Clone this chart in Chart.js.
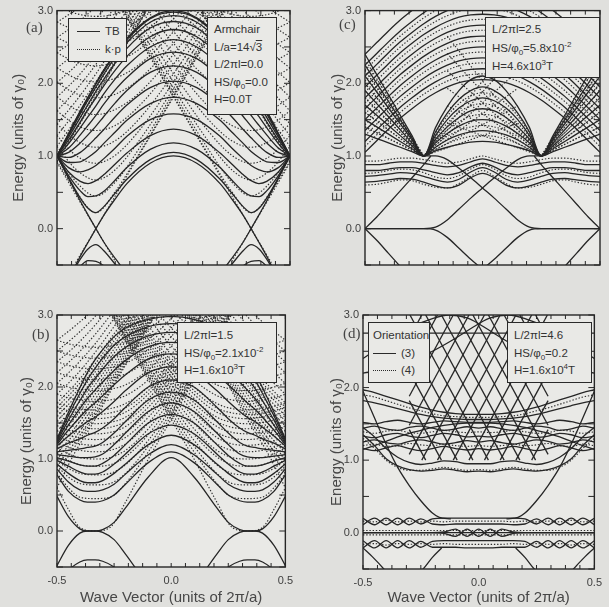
<!DOCTYPE html>
<html>
<head>
<meta charset="utf-8">
<title>Band structure in a magnetic field</title>
<script src="https://cdn.jsdelivr.net/npm/chart.js@4.4.1/dist/chart.umd.min.js"></script>
<style>
  html, body { margin: 0; padding: 0; background: #e0e0dd; }
  #page { position: relative; width: 609px; height: 607px; overflow: hidden; font-family: 'Liberation Sans', Arial, sans-serif; color: #333; }
  #page canvas { position: absolute; }
  .tag { position: absolute; font-family: 'Liberation Serif', 'Times New Roman', serif; font-size: 15px; line-height: 16px; color: #444; }
  .box { position: absolute; box-sizing: border-box; background: #e9e9e6; border: 1.3px solid #2a2a2a; font-size: 11.5px; color: #333; padding-left: 6px; white-space: nowrap; }
  .key { display: inline-block; width: 23px; margin-right: 5px; vertical-align: middle; border-top: 1.4px solid #2a2a2a; }
  .key.dot { border-top: 1.4px dotted #2a2a2a; }
  sub, sup { font-size: 8px; line-height: 0; }
  .ovl { text-decoration: overline; }
</style>
</head>
<body>
<div id="page">
  <canvas id="panelA" width="300" height="300" style="left:0;top:0"></canvas>
  <canvas id="panelC" width="309" height="300" style="left:300px;top:0"></canvas>
  <canvas id="panelB" width="300" height="307" style="left:0;top:300px"></canvas>
  <canvas id="panelD" width="309" height="307" style="left:300px;top:300px"></canvas>

  <div class="tag" style="left:26px;top:19px">(a)</div>
  <div class="tag" style="left:339px;top:16px">(c)</div>
  <div class="tag" style="left:32px;top:326px">(b)</div>
  <div class="tag" style="left:343px;top:325px">(d)</div>

  <div class="box" style="left:68px;top:18px;width:59px;height:44px;padding-top:3px;padding-left:8px;line-height:18px">
    <div><span class="key"></span>TB</div>
    <div><span class="key dot"></span>k·p</div>
  </div>
  <div class="box" style="left:207px;top:17px;width:70px;height:98px;padding-top:3px;line-height:17.5px">
    <div>Armchair</div>
    <div>L/a=14√<span class="ovl">3</span></div>
    <div>L/2πl=0.0</div>
    <div>HS/φ<sub>0</sub>=0.0</div>
    <div>H=0.0T</div>
  </div>
  <div class="box" style="left:485px;top:17px;width:115px;height:61px;padding-top:2px;line-height:18.5px">
    <div>L/2πl=2.5</div>
    <div>HS/φ<sub>0</sub>=5.8x10<sup>-2</sup></div>
    <div>H=4.6x10<sup>3</sup>T</div>
  </div>
  <div class="box" style="left:177px;top:322px;width:100px;height:61px;padding-top:4px;line-height:17.5px">
    <div>L/2πl=1.5</div>
    <div>HS/φ<sub>0</sub>=2.1x10<sup>-2</sup></div>
    <div>H=1.6x10<sup>3</sup>T</div>
  </div>
  <div class="box" style="left:368px;top:322px;width:62px;height:61px;padding-top:4px;padding-left:4px;line-height:17.5px">
    <div>Orientation</div>
    <div><span class="key"></span>(3)</div>
    <div><span class="key dot"></span>(4)</div>
  </div>
  <div class="box" style="left:507px;top:322px;width:85px;height:61px;padding-top:4px;line-height:17.5px">
    <div>L/2πl=4.6</div>
    <div>HS/φ<sub>0</sub>=0.2</div>
    <div>H=1.6x10<sup>4</sup>T</div>
  </div>
</div>

<script>
// ---- axis marks ----
const xMarks = [-0.5, -0.4375, -0.375, -0.3125, -0.25, -0.1875, -0.125, -0.0625, 0,
    0.0625, 0.125, 0.1875, 0.25, 0.3125, 0.375, 0.4375, 0.5];
const yMarks = [-0.5, 0, 0.5, 1, 1.5, 2, 2.5, 3];

// ---- panel (a): armchair, no field ----
const waveA = [-0.5, -0.45, -0.4, -0.367, -0.333, -0.3, -0.25, -0.2, -0.1, 0, 0.1, 0.2, 0.25, 0.3, 0.333, 0.367, 0.4, 0.45, 0.5];
const tbA = [
    [1.0, 1.31, 1.62, 1.81, 2.0, 2.18, 2.41, 2.62, 2.9, 3.0, 2.9, 2.62, 2.41, 2.18, 2.0, 1.81, 1.62, 1.31, 1.0],
    [1.0, 1.31, 1.61, 1.8, 1.99, 2.16, 2.4, 2.6, 2.89, 2.98, 2.89, 2.6, 2.4, 2.16, 1.99, 1.8, 1.61, 1.31, 1.0],
    [1.0, 1.29, 1.58, 1.77, 1.95, 2.12, 2.36, 2.56, 2.84, 2.93, 2.84, 2.56, 2.36, 2.12, 1.95, 1.77, 1.58, 1.29, 1.0],
    [1.0, 1.26, 1.53, 1.71, 1.89, 2.05, 2.28, 2.48, 2.76, 2.85, 2.76, 2.48, 2.28, 2.05, 1.89, 1.71, 1.53, 1.26, 1.0],
    [1.0, 1.22, 1.47, 1.64, 1.8, 1.96, 2.18, 2.37, 2.64, 2.74, 2.64, 2.37, 2.18, 1.96, 1.8, 1.64, 1.47, 1.22, 1.0],
    [1.0, 1.17, 1.39, 1.54, 1.69, 1.85, 2.06, 2.24, 2.5, 2.6, 2.5, 2.24, 2.06, 1.85, 1.69, 1.54, 1.39, 1.17, 1.0],
    [1.0, 1.11, 1.29, 1.42, 1.56, 1.71, 1.91, 2.08, 2.34, 2.43, 2.34, 2.08, 1.91, 1.71, 1.56, 1.42, 1.29, 1.11, 1.0],
    [1.0, 1.05, 1.18, 1.29, 1.41, 1.54, 1.73, 1.9, 2.15, 2.24, 2.15, 1.9, 1.73, 1.54, 1.41, 1.29, 1.18, 1.05, 1.0],
    [1.0, 0.98, 1.05, 1.14, 1.25, 1.36, 1.54, 1.7, 1.94, 2.03, 1.94, 1.7, 1.54, 1.36, 1.25, 1.14, 1.05, 0.98, 1.0],
    [1.0, 0.91, 0.92, 0.98, 1.06, 1.17, 1.33, 1.49, 1.72, 1.81, 1.72, 1.49, 1.33, 1.17, 1.06, 0.98, 0.92, 0.91, 1.0],
    [1.0, 0.84, 0.78, 0.81, 0.87, 0.96, 1.11, 1.27, 1.5, 1.58, 1.5, 1.27, 1.11, 0.96, 0.87, 0.81, 0.78, 0.84, 1.0],
    [1.0, 0.78, 0.65, 0.62, 0.66, 0.74, 0.89, 1.04, 1.28, 1.37, 1.28, 1.04, 0.89, 0.74, 0.66, 0.62, 0.65, 0.78, 1.0],
    [1.0, 0.73, 0.52, 0.44, 0.45, 0.51, 0.67, 0.84, 1.09, 1.18, 1.09, 0.84, 0.67, 0.51, 0.45, 0.44, 0.52, 0.73, 1.0],
    [1.0, 0.7, 0.42, 0.28, 0.22, 0.3, 0.49, 0.68, 0.95, 1.05, 0.95, 0.68, 0.49, 0.3, 0.22, 0.28, 0.42, 0.7, 1.0],
    [-1.0, -0.7, -0.42, -0.28, -0.22, -0.3, -0.49, -0.68, -0.95, -1.05, -0.95, -0.68, -0.49, -0.3, -0.22, -0.28, -0.42, -0.7, -1.0],
    [-1.0, -0.73, -0.52, -0.44, -0.45, -0.51, -0.67, -0.84, -1.09, -1.18, -1.09, -0.84, -0.67, -0.51, -0.45, -0.44, -0.52, -0.73, -1.0],
];
const diracA = [
    [[-0.5, 1.0], [-0.45, 0.69], [-0.4, 0.38], [-0.367, 0.19], [-0.333, 0], [-0.3, -0.18], [-0.25, -0.41], [-0.2, -0.62]],
    [[-0.5, -1.0], [-0.45, -0.69], [-0.4, -0.38], [-0.367, -0.19], [-0.333, 0], [-0.3, 0.18], [-0.25, 0.41], [-0.2, 0.62], [-0.1, 0.9], [0, 1.0],
     [0.1, 0.9], [0.2, 0.62], [0.25, 0.41], [0.3, 0.18], [0.333, 0], [0.367, -0.19], [0.4, -0.38], [0.45, -0.69], [0.5, -1.0]],
    [[0.2, -0.62], [0.25, -0.41], [0.3, -0.18], [0.333, 0], [0.367, 0.19], [0.4, 0.38], [0.45, 0.69], [0.5, 1.0]],
];
const kpZeroA = [
    [[-0.5, 0.91], [-0.42, 0.47], [-0.333, 0], [-0.25, -0.45]],
    [[-0.42, -0.47], [-0.333, 0], [-0.25, 0.45], [-0.15, 1.0], [0, 1.81], [0.15, 2.63], [0.3, 3.45]],
    [[0.25, -0.45], [0.333, 0], [0.42, 0.47], [0.5, 0.91]],
    [[-0.3, 3.45], [-0.15, 2.63], [0, 1.81], [0.15, 1.0], [0.25, 0.45], [0.333, 0], [0.42, -0.47]],
];
const kpGridA = [-0.5, -0.42, -0.333, -0.25, -0.15, 0, 0.15, 0.3];
const kpGridAR = [-0.3, -0.15, 0, 0.15, 0.25, 0.333, 0.42, 0.5];
const kpA = [
    [0.93, 0.52, 0.22, 0.51, 1.02, 1.83, 2.64, 3.45],
    [1.01, 0.65, 0.45, 0.64, 1.09, 1.87, 2.67, 3.48],
    [1.13, 0.82, 0.67, 0.81, 1.2, 1.93, 2.71, 3.51],
    [1.28, 1.01, 0.9, 1.01, 1.34, 2.02, 2.78, 3.56],
    [1.44, 1.22, 1.12, 1.21, 1.5, 2.13, 2.86, 3.63],
    [1.62, 1.43, 1.35, 1.42, 1.68, 2.26, 2.95, 3.71],
    [1.81, 1.64, 1.57, 1.64, 1.86, 2.4, 3.06, 3.8],
    [2.01, 1.86, 1.8, 1.85, 2.05, 2.55, 3.17, 3.9],
    [2.21, 2.07, 2.02, 2.07, 2.25, 2.71, 3.3, 4.0],
    [2.42, 2.29, 2.24, 2.29, 2.46, 2.89, 3.44, 4.1],
    [2.63, 2.51, 2.47, 2.51, 2.66, 3.06, 3.6, 4.2],
    [2.84, 2.73, 2.69, 2.73, 2.87, 3.24, 3.75, 4.3],
    [3.06, 2.96, 2.92, 2.95, 3.08, 3.4, 3.9, 4.4],
];
const zoneGridA = [-0.5, -0.42, -0.333, -0.25, -0.15, -0.05];
const zoneGridAR = [0.05, 0.15, 0.25, 0.333, 0.42, 0.5];
const zoneA = [
    [0.91, 1.34, 1.81, 2.27, 2.81, 3.36],
    [0.93, 1.36, 1.83, 2.28, 2.82, 3.36],
    [1.01, 1.42, 1.87, 2.31, 2.85, 3.39],
    [1.13, 1.5, 1.93, 2.37, 2.89, 3.42],
    [1.28, 1.61, 2.02, 2.44, 2.95, 3.47],
    [1.44, 1.75, 2.13, 2.54, 3.03, 3.54],
    [1.62, 1.9, 2.26, 2.65, 3.11, 3.62],
    [1.81, 2.06, 2.4, 2.78, 3.22, 3.72],
    [2.01, 2.24, 2.55, 2.92, 3.33, 3.82],
    [2.21, 2.42, 2.71, 3.05, 3.45, 3.94],
    [2.42, 2.61, 2.89, 3.2, 3.6, 4.06],
    [2.63, 2.81, 3.06, 3.35, 3.75, 4.2],
    [2.84, 3.01, 3.24, 3.5, 3.9, 4.33],
    [3.06, 3.2, 3.4, 3.6, 4.0, 4.47],
];

// ---- panel (b): L/2πl = 1.5 ----
const waveB = [-0.5, -0.45, -0.4, -0.367, -0.333, -0.3, -0.25, -0.2, -0.1, 0, 0.1, 0.2, 0.25, 0.3, 0.333, 0.367, 0.4, 0.45, 0.5];
const tbB = [
    [0.48, 0.2, 0.03, 0.0, 0.0, 0.02, 0.12, 0.32, 0.75, 1.02, 0.75, 0.32, 0.12, 0.02, 0.0, 0.0, 0.03, 0.2, 0.48],
    [0.78, 0.55, 0.43, 0.4, 0.4, 0.42, 0.5, 0.65, 0.95, 1.1, 0.95, 0.65, 0.5, 0.42, 0.4, 0.4, 0.43, 0.55, 0.78],
    [0.86, 0.68, 0.57, 0.55, 0.55, 0.57, 0.65, 0.79, 1.06, 1.2, 1.06, 0.79, 0.65, 0.57, 0.55, 0.55, 0.57, 0.68, 0.86],
    [0.93, 0.8, 0.7, 0.67, 0.67, 0.7, 0.8, 0.93, 1.2, 1.33, 1.2, 0.93, 0.8, 0.7, 0.67, 0.67, 0.7, 0.8, 0.93],
    [0.98, 0.9, 0.82, 0.79, 0.79, 0.82, 0.93, 1.07, 1.35, 1.47, 1.35, 1.07, 0.93, 0.82, 0.79, 0.79, 0.82, 0.9, 0.98],
    [1.02, 0.97, 0.92, 0.9, 0.9, 0.94, 1.05, 1.2, 1.5, 1.62, 1.5, 1.2, 1.05, 0.94, 0.9, 0.9, 0.92, 0.97, 1.02],
    [1.06, 1.04, 1.02, 1.02, 1.03, 1.07, 1.2, 1.36, 1.66, 1.78, 1.66, 1.36, 1.2, 1.07, 1.03, 1.02, 1.02, 1.04, 1.06],
    [1.1, 1.12, 1.14, 1.16, 1.18, 1.23, 1.36, 1.52, 1.82, 1.93, 1.82, 1.52, 1.36, 1.23, 1.18, 1.16, 1.14, 1.12, 1.1],
    [1.14, 1.22, 1.28, 1.33, 1.37, 1.43, 1.56, 1.72, 2.0, 2.1, 2.0, 1.72, 1.56, 1.43, 1.37, 1.33, 1.28, 1.22, 1.14],
    [1.18, 1.32, 1.44, 1.52, 1.58, 1.66, 1.8, 1.95, 2.2, 2.28, 2.2, 1.95, 1.8, 1.66, 1.58, 1.52, 1.44, 1.32, 1.18],
    [1.2, 1.4, 1.58, 1.69, 1.78, 1.88, 2.03, 2.17, 2.39, 2.46, 2.39, 2.17, 2.03, 1.88, 1.78, 1.69, 1.58, 1.4, 1.2],
    [1.22, 1.47, 1.7, 1.84, 1.96, 2.07, 2.23, 2.37, 2.56, 2.62, 2.56, 2.37, 2.23, 2.07, 1.96, 1.84, 1.7, 1.47, 1.22],
    [1.24, 1.54, 1.81, 1.98, 2.12, 2.25, 2.42, 2.55, 2.71, 2.76, 2.71, 2.55, 2.42, 2.25, 2.12, 1.98, 1.81, 1.54, 1.24],
    [1.26, 1.6, 1.91, 2.1, 2.26, 2.4, 2.58, 2.7, 2.84, 2.88, 2.84, 2.7, 2.58, 2.4, 2.26, 2.1, 1.91, 1.6, 1.26],
    [1.28, 1.65, 1.99, 2.2, 2.38, 2.52, 2.7, 2.82, 2.94, 2.98, 2.94, 2.82, 2.7, 2.52, 2.38, 2.2, 1.99, 1.65, 1.28],
    [-0.48, -0.2, -0.03, 0.0, 0.0, -0.02, -0.12, -0.32, -0.75, -1.02, -0.75, -0.32, -0.12, -0.02, 0.0, 0.0, -0.03, -0.2, -0.48],
    [-0.78, -0.55, -0.43, -0.4, -0.4, -0.42, -0.5, -0.65, -0.95, -1.1, -0.95, -0.65, -0.5, -0.42, -0.4, -0.4, -0.43, -0.55, -0.78],
    [-0.86, -0.68, -0.57, -0.55, -0.55, -0.57, -0.65, -0.79, -1.06, -1.2, -1.06, -0.79, -0.65, -0.57, -0.55, -0.55, -0.57, -0.68, -0.86],
];
const kpGridB = [-0.5, -0.45, -0.4, -0.333, -0.267, -0.2, -0.1, 0, 0.1, 0.2, 0.3];
const kpGridBR = [-0.3, -0.2, -0.1, 0, 0.1, 0.2, 0.267, 0.333, 0.4, 0.45, 0.5];
const kpB = [
    [0.6, 0.3, 0.05, 0, 0.05, 0.4, 1.0, 1.55, 2.1, 2.65, 3.2],
    [0.8, 0.6, 0.47, 0.45, 0.47, 0.66, 1.1, 1.6, 2.14, 2.68, 3.22],
    [0.9, 0.75, 0.66, 0.64, 0.66, 0.8, 1.18, 1.65, 2.17, 2.7, 3.24],
    [1.0, 0.87, 0.8, 0.78, 0.8, 0.92, 1.26, 1.71, 2.21, 2.73, 3.27],
    [1.08, 0.98, 0.92, 0.9, 0.92, 1.03, 1.34, 1.77, 2.26, 2.77, 3.3],
    [1.16, 1.07, 1.02, 1.0, 1.02, 1.12, 1.42, 1.83, 2.3, 2.8, 3.33],
    [1.24, 1.16, 1.12, 1.1, 1.12, 1.21, 1.5, 1.9, 2.36, 2.85, 3.37],
    [1.32, 1.25, 1.21, 1.19, 1.21, 1.3, 1.58, 1.96, 2.41, 2.89, 3.41],
    [1.39, 1.33, 1.29, 1.27, 1.29, 1.37, 1.65, 2.03, 2.47, 2.94, 3.45],
    [1.46, 1.4, 1.37, 1.35, 1.37, 1.45, 1.72, 2.09, 2.52, 2.98, 3.49],
    [1.53, 1.47, 1.44, 1.42, 1.44, 1.52, 1.78, 2.15, 2.57, 3.03, 3.53],
    [1.6, 1.54, 1.51, 1.49, 1.51, 1.58, 1.84, 2.2, 2.62, 3.07, 3.57],
    [1.66, 1.6, 1.58, 1.56, 1.58, 1.65, 1.9, 2.26, 2.67, 3.12, 3.61],
    [1.72, 1.67, 1.64, 1.62, 1.64, 1.71, 1.95, 2.31, 2.72, 3.16, 3.65],
    [1.78, 1.73, 1.7, 1.68, 1.7, 1.77, 2.0, 2.36, 2.77, 3.2, 3.7],
    [1.9, 1.85, 1.82, 1.8, 1.82, 1.88, 2.1, 2.45, 2.85, 3.28, 3.76],
    [2.05, 2.0, 1.97, 1.95, 1.97, 2.03, 2.24, 2.57, 2.96, 3.38, 3.85],
    [2.2, 2.15, 2.12, 2.1, 2.12, 2.18, 2.38, 2.7, 3.07, 3.48, 3.94],
    [2.35, 2.3, 2.27, 2.25, 2.27, 2.33, 2.52, 2.82, 3.18, 3.58, 4.03],
    [2.5, 2.45, 2.42, 2.4, 2.42, 2.48, 2.66, 2.95, 3.3, 3.7, 4.13],
    [2.65, 2.6, 2.57, 2.55, 2.57, 2.62, 2.8, 3.07, 3.41, 3.8, 4.22],
];
const zoneGridB = [-0.5, -0.42, -0.333, -0.25, -0.15, -0.05];
const zoneGridBR = [0.05, 0.15, 0.25, 0.333, 0.42, 0.5];
const zoneB = [
    [0.6, 1.1, 1.55, 2.03, 2.57, 3.11],
    [0.8, 1.18, 1.6, 2.06, 2.59, 3.13],
    [0.9, 1.24, 1.65, 2.1, 2.62, 3.15],
    [1.0, 1.3, 1.71, 2.14, 2.65, 3.17],
    [1.08, 1.37, 1.77, 2.18, 2.69, 3.2],
    [1.16, 1.44, 1.83, 2.23, 2.73, 3.23],
    [1.24, 1.51, 1.9, 2.29, 2.77, 3.26],
    [1.32, 1.58, 1.96, 2.35, 2.81, 3.3],
    [1.39, 1.65, 2.03, 2.41, 2.86, 3.34],
    [1.46, 1.72, 2.09, 2.47, 2.9, 3.38],
    [1.53, 1.79, 2.15, 2.53, 2.95, 3.42],
    [1.6, 1.86, 2.21, 2.59, 3.0, 3.46],
    [1.66, 1.92, 2.27, 2.64, 3.05, 3.5],
    [1.72, 1.98, 2.32, 2.69, 3.1, 3.54],
    [1.78, 2.04, 2.38, 2.74, 3.15, 3.58],
    [1.9, 2.15, 2.48, 2.84, 3.24, 3.66],
    [2.05, 2.29, 2.6, 2.95, 3.33, 3.74],
    [2.2, 2.43, 2.73, 3.06, 3.43, 3.83],
    [2.35, 2.57, 2.86, 3.17, 3.53, 3.92],
    [2.5, 2.71, 2.98, 3.29, 3.63, 4.0],
    [2.65, 2.85, 3.1, 3.4, 3.73, 4.1],
];

// ---- panel (c): L/2πl = 2.5 ----
const waveC = [-0.5, -0.45, -0.4, -0.35, -0.3, -0.25, -0.2, -0.15, -0.1, -0.05, 0, 0.05, 0.1, 0.15, 0.2, 0.25, 0.3, 0.35, 0.4, 0.45, 0.5];
const arcsC = [
    [1.05, 1.21, 1.37, 1.52, 1.65, 1.77, 1.87, 1.95, 2.01, 2.04, 2.05, 2.04, 2.01, 1.95, 1.87, 1.77, 1.65, 1.52, 1.37, 1.21, 1.05],
    [1.2, 1.36, 1.52, 1.67, 1.8, 1.92, 2.02, 2.1, 2.16, 2.19, 2.2, 2.19, 2.16, 2.1, 2.02, 1.92, 1.8, 1.67, 1.52, 1.36, 1.2],
    [1.35, 1.51, 1.67, 1.82, 1.95, 2.07, 2.17, 2.25, 2.31, 2.34, 2.35, 2.34, 2.31, 2.25, 2.17, 2.07, 1.95, 1.82, 1.67, 1.51, 1.35],
    [1.5, 1.66, 1.82, 1.97, 2.1, 2.22, 2.32, 2.4, 2.46, 2.49, 2.5, 2.49, 2.46, 2.4, 2.32, 2.22, 2.1, 1.97, 1.82, 1.66, 1.5],
    [1.65, 1.81, 1.97, 2.12, 2.25, 2.37, 2.47, 2.55, 2.61, 2.64, 2.65, 2.64, 2.61, 2.55, 2.47, 2.37, 2.25, 2.12, 1.97, 1.81, 1.65],
    [1.8, 1.96, 2.12, 2.27, 2.4, 2.52, 2.62, 2.7, 2.76, 2.79, 2.8, 2.79, 2.76, 2.7, 2.62, 2.52, 2.4, 2.27, 2.12, 1.96, 1.8],
    [1.95, 2.11, 2.27, 2.42, 2.55, 2.67, 2.77, 2.85, 2.91, 2.94, 2.95, 2.94, 2.91, 2.85, 2.77, 2.67, 2.55, 2.42, 2.27, 2.11, 1.95],
    [2.1, 2.26, 2.42, 2.57, 2.7, 2.82, 2.92, 3.0, 3.06, 3.09, 3.1, 3.09, 3.06, 3.0, 2.92, 2.82, 2.7, 2.57, 2.42, 2.26, 2.1],
    [2.25, 2.41, 2.57, 2.72, 2.85, 2.97, 3.07, 3.15, 3.21, 3.24, 3.25, 3.24, 3.21, 3.15, 3.07, 2.97, 2.85, 2.72, 2.57, 2.41, 2.25],
    [2.4, 2.56, 2.72, 2.87, 3.0, 3.12, 3.22, 3.3, 3.36, 3.39, 3.4, 3.39, 3.36, 3.3, 3.22, 3.12, 3.0, 2.87, 2.72, 2.56, 2.4],
];
const arcsDotC = [
    [1.13, 1.29, 1.45, 1.6, 1.73, 1.85, 1.95, 2.03, 2.09, 2.12, 2.13, 2.12, 2.09, 2.03, 1.95, 1.85, 1.73, 1.6, 1.45, 1.29, 1.13],
    [1.28, 1.44, 1.6, 1.75, 1.88, 2.0, 2.1, 2.18, 2.24, 2.27, 2.28, 2.27, 2.24, 2.18, 2.1, 2.0, 1.88, 1.75, 1.6, 1.44, 1.28],
    [1.43, 1.59, 1.75, 1.9, 2.03, 2.15, 2.25, 2.33, 2.39, 2.42, 2.43, 2.42, 2.39, 2.33, 2.25, 2.15, 2.03, 1.9, 1.75, 1.59, 1.43],
    [1.58, 1.74, 1.9, 2.05, 2.18, 2.3, 2.4, 2.48, 2.54, 2.57, 2.58, 2.57, 2.54, 2.48, 2.4, 2.3, 2.18, 2.05, 1.9, 1.74, 1.58],
    [1.73, 1.89, 2.05, 2.2, 2.33, 2.45, 2.55, 2.63, 2.69, 2.72, 2.73, 2.72, 2.69, 2.63, 2.55, 2.45, 2.33, 2.2, 2.05, 1.89, 1.73],
    [1.88, 2.04, 2.2, 2.35, 2.48, 2.6, 2.7, 2.78, 2.84, 2.87, 2.88, 2.87, 2.84, 2.78, 2.7, 2.6, 2.48, 2.35, 2.2, 2.04, 1.88],
    [2.03, 2.19, 2.35, 2.5, 2.63, 2.75, 2.85, 2.93, 2.99, 3.02, 3.03, 3.02, 2.99, 2.93, 2.85, 2.75, 2.63, 2.5, 2.35, 2.19, 2.03],
    [2.18, 2.34, 2.5, 2.65, 2.78, 2.9, 3.0, 3.08, 3.14, 3.17, 3.18, 3.17, 3.14, 3.08, 3.0, 2.9, 2.78, 2.65, 2.5, 2.34, 2.18],
];
const humpsC = [
    [1.3, 1.24, 1.18, 1.12, 1.06, 1.0, 1.07, 1.12, 1.16, 1.19, 1.2, 1.19, 1.16, 1.12, 1.07, 1.0, 1.06, 1.12, 1.18, 1.24, 1.3],
    [1.5, 1.4, 1.3, 1.2, 1.1, 1.0, 1.12, 1.22, 1.29, 1.33, 1.35, 1.33, 1.29, 1.22, 1.12, 1.0, 1.1, 1.2, 1.3, 1.4, 1.5],
    [1.7, 1.56, 1.42, 1.28, 1.14, 1.0, 1.18, 1.31, 1.41, 1.48, 1.5, 1.48, 1.41, 1.31, 1.18, 1.0, 1.14, 1.28, 1.42, 1.56, 1.7],
    [1.9, 1.72, 1.54, 1.36, 1.18, 1.0, 1.23, 1.4, 1.53, 1.62, 1.65, 1.62, 1.53, 1.4, 1.23, 1.0, 1.18, 1.36, 1.54, 1.72, 1.9],
    [2.1, 1.88, 1.66, 1.44, 1.22, 1.0, 1.28, 1.5, 1.66, 1.76, 1.8, 1.76, 1.66, 1.5, 1.28, 1.0, 1.22, 1.44, 1.66, 1.88, 2.1],
    [2.25, 2.0, 1.75, 1.5, 1.25, 1.0, 1.33, 1.59, 1.78, 1.9, 1.95, 1.9, 1.78, 1.59, 1.33, 1.0, 1.25, 1.5, 1.75, 2.0, 2.25],
    [2.4, 2.12, 1.84, 1.56, 1.28, 1.0, 1.39, 1.68, 1.9, 2.05, 2.1, 2.05, 1.9, 1.68, 1.39, 1.0, 1.28, 1.56, 1.84, 2.12, 2.4],
];
const humpsDotC = [
    [1.4, 1.32, 1.24, 1.16, 1.08, 1.0, 1.09, 1.17, 1.23, 1.27, 1.28, 1.27, 1.23, 1.17, 1.09, 1.0, 1.08, 1.16, 1.24, 1.32, 1.4],
    [1.6, 1.48, 1.36, 1.24, 1.12, 1.0, 1.15, 1.27, 1.35, 1.4, 1.42, 1.4, 1.35, 1.27, 1.15, 1.0, 1.12, 1.24, 1.36, 1.48, 1.6],
    [1.8, 1.64, 1.48, 1.32, 1.16, 1.0, 1.2, 1.36, 1.47, 1.55, 1.57, 1.55, 1.47, 1.36, 1.2, 1.0, 1.16, 1.32, 1.48, 1.64, 1.8],
    [2.0, 1.8, 1.6, 1.4, 1.2, 1.0, 1.26, 1.45, 1.6, 1.69, 1.72, 1.69, 1.6, 1.45, 1.26, 1.0, 1.2, 1.4, 1.6, 1.8, 2.0],
    [2.18, 1.94, 1.71, 1.47, 1.24, 1.0, 1.31, 1.55, 1.72, 1.83, 1.87, 1.83, 1.72, 1.55, 1.31, 1.0, 1.24, 1.47, 1.71, 1.94, 2.18],
];
const wavesC = [
    [0.64, 0.65, 0.67, 0.69, 0.68, 0.64, 0.59, 0.56, 0.6, 0.7, 0.76, 0.7, 0.6, 0.56, 0.59, 0.64, 0.68, 0.69, 0.67, 0.65, 0.64],
    [0.72, 0.73, 0.75, 0.77, 0.76, 0.72, 0.67, 0.64, 0.68, 0.78, 0.84, 0.78, 0.68, 0.64, 0.67, 0.72, 0.76, 0.77, 0.75, 0.73, 0.72],
    [0.8, 0.8, 0.82, 0.84, 0.84, 0.81, 0.77, 0.74, 0.77, 0.85, 0.9, 0.85, 0.77, 0.74, 0.77, 0.81, 0.84, 0.84, 0.82, 0.8, 0.8],
    [0.88, 0.88, 0.9, 0.92, 0.92, 0.9, 0.87, 0.85, 0.87, 0.92, 0.96, 0.92, 0.87, 0.85, 0.87, 0.9, 0.92, 0.92, 0.9, 0.88, 0.88],
];
const wavesDotC = [
    [0.6, 0.61, 0.64, 0.67, 0.66, 0.61, 0.57, 0.56, 0.62, 0.72, 0.8, 0.72, 0.62, 0.56, 0.57, 0.61, 0.66, 0.67, 0.64, 0.61, 0.6],
    [0.76, 0.77, 0.8, 0.82, 0.81, 0.77, 0.71, 0.69, 0.73, 0.82, 0.88, 0.82, 0.73, 0.69, 0.71, 0.77, 0.81, 0.82, 0.8, 0.77, 0.76],
    [0.93, 0.93, 0.95, 0.97, 0.97, 0.95, 0.92, 0.9, 0.92, 0.96, 1.0, 0.96, 0.92, 0.9, 0.92, 0.95, 0.97, 0.97, 0.95, 0.93, 0.93],
];
const lowC = [
    [[-0.5, 0], [-0.35, 0], [-0.25, 0], [-0.2, 0.02], [-0.15, 0.12], [-0.1, 0.27], [-0.05, 0.42], [0, 0.56], [0.05, 0.7], [0.1, 0.83], [0.15, 0.95], [0.2, 1.0], [0.25, 1.0]],
    [[-0.25, 1.0], [-0.2, 1.0], [-0.15, 0.95], [-0.1, 0.83], [-0.05, 0.7], [0, 0.56], [0.05, 0.42], [0.1, 0.27], [0.15, 0.12], [0.2, 0.02], [0.25, 0], [0.35, 0], [0.5, 0]],
    [[-0.5, 0], [-0.25, 0], [-0.2, -0.02], [-0.15, -0.12], [-0.1, -0.27], [-0.05, -0.42], [0, -0.56], [0.05, -0.7]],
    [[-0.05, -0.7], [0, -0.56], [0.05, -0.42], [0.1, -0.27], [0.15, -0.12], [0.2, -0.02], [0.25, 0], [0.5, 0]],
    [[-0.5, 0], [-0.45, 0.16], [-0.4, 0.34], [-0.35, 0.52], [-0.3, 0.7], [-0.25, 0.88], [-0.22, 1.0]],
    [[-0.5, 0], [-0.45, -0.16], [-0.4, -0.34], [-0.35, -0.52]],
    [[0.22, 1.0], [0.25, 0.88], [0.3, 0.7], [0.35, 0.52], [0.4, 0.34], [0.45, 0.16], [0.5, 0]],
    [[0.35, -0.52], [0.4, -0.34], [0.45, -0.16], [0.5, 0]],
];
const fociDotC = [
    [[-0.5, 1.4], [-0.25, 1.0], [0.15, 1.45]],
    [[-0.5, 1.6], [-0.25, 1.0], [0.15, 1.69]],
    [[-0.5, 1.8], [-0.25, 1.0], [0.15, 1.93]],
    [[-0.5, 2.0], [-0.25, 1.0], [0.15, 2.17]],
    [[-0.5, 2.18], [-0.25, 1.0], [0.15, 2.41]],
    [[-0.5, 2.33], [-0.25, 1.0], [0.15, 2.65]],
    [[-0.15, 1.45], [0.25, 1.0], [0.5, 1.4]],
    [[-0.15, 1.69], [0.25, 1.0], [0.5, 1.6]],
    [[-0.15, 1.93], [0.25, 1.0], [0.5, 1.8]],
    [[-0.15, 2.17], [0.25, 1.0], [0.5, 2.0]],
    [[-0.15, 2.41], [0.25, 1.0], [0.5, 2.18]],
    [[-0.15, 2.65], [0.25, 1.0], [0.5, 2.33]],
];

// ---- panel (d): L/2πl = 4.6 ----
const waveD = [-0.5, -0.45, -0.4, -0.35, -0.3, -0.25, -0.2, -0.15, -0.1, -0.05, 0, 0.05, 0.1, 0.15, 0.2, 0.25, 0.3, 0.35, 0.4, 0.45, 0.5];
const bandsD = [
    [0, 0, 0, 0, 0, 0, 0, 0, 0, 0, 0, 0, 0, 0, 0, 0, 0, 0, 0, 0, 0],
    [0, 0, 0, 0, 0, 0, 0, 0.01, 0.05, -0.05, 0.05, -0.05, 0.05, 0.01, 0, 0, 0, 0, 0, 0, 0],
    [0, 0, 0, 0, 0, 0, 0, -0.01, -0.05, 0.05, -0.05, 0.05, -0.05, -0.01, 0, 0, 0, 0, 0, 0, 0],
    [0.2, 0.11, 0.2, 0.11, 0.2, 0.12, 0.19, 0.2, 0.2, 0.2, 0.2, 0.2, 0.2, 0.2, 0.19, 0.12, 0.2, 0.11, 0.2, 0.11, 0.2],
    [0.11, 0.2, 0.11, 0.2, 0.11, 0.19, 0.12, 0.11, 0.12, 0.12, 0.12, 0.12, 0.12, 0.11, 0.12, 0.19, 0.11, 0.2, 0.11, 0.2, 0.11],
    [-0.21, -0.11, -0.21, -0.11, -0.21, -0.12, -0.2, -0.2, -0.2, -0.21, -0.21, -0.21, -0.2, -0.2, -0.2, -0.12, -0.21, -0.11, -0.21, -0.11, -0.21],
    [-0.11, -0.21, -0.11, -0.21, -0.11, -0.2, -0.12, -0.11, -0.11, -0.11, -0.11, -0.11, -0.11, -0.11, -0.12, -0.2, -0.11, -0.21, -0.11, -0.21, -0.11],
    [1.35, 1.2, 1.02, 0.92, 0.87, 0.85, 0.86, 0.88, 0.86, 0.84, 0.85, 0.84, 0.86, 0.88, 0.86, 0.85, 0.87, 0.92, 1.02, 1.2, 1.35],
    [1.45, 1.32, 1.16, 1.04, 0.97, 0.94, 0.96, 0.99, 0.98, 0.95, 0.95, 0.95, 0.98, 0.99, 0.96, 0.94, 0.97, 1.04, 1.16, 1.32, 1.45],
    [1.16, 1.13, 1.17, 1.2, 1.16, 1.13, 1.16, 1.19, 1.16, 1.14, 1.16, 1.14, 1.16, 1.19, 1.16, 1.13, 1.16, 1.2, 1.17, 1.13, 1.16],
    [1.25, 1.28, 1.24, 1.22, 1.26, 1.28, 1.25, 1.22, 1.24, 1.27, 1.25, 1.27, 1.24, 1.22, 1.25, 1.28, 1.26, 1.22, 1.24, 1.28, 1.25],
    [1.33, 1.31, 1.35, 1.37, 1.33, 1.31, 1.34, 1.37, 1.35, 1.32, 1.33, 1.32, 1.35, 1.37, 1.34, 1.31, 1.33, 1.37, 1.35, 1.31, 1.33],
    [1.44, 1.47, 1.43, 1.41, 1.45, 1.47, 1.44, 1.41, 1.43, 1.46, 1.44, 1.46, 1.43, 1.41, 1.44, 1.47, 1.45, 1.41, 1.43, 1.47, 1.44],
    [1.52, 1.5, 1.53, 1.55, 1.52, 1.5, 1.52, 1.54, 1.53, 1.52, 1.52, 1.52, 1.53, 1.54, 1.52, 1.5, 1.52, 1.55, 1.53, 1.5, 1.52],
    [1.15, 1.2, 1.26, 1.32, 1.37, 1.41, 1.45, 1.48, 1.5, 1.51, 1.51, 1.51, 1.5, 1.48, 1.45, 1.41, 1.37, 1.32, 1.26, 1.2, 1.15],
    [1.82, 1.79, 1.75, 1.71, 1.67, 1.63, 1.6, 1.58, 1.57, 1.56, 1.56, 1.56, 1.57, 1.58, 1.6, 1.63, 1.67, 1.71, 1.75, 1.79, 1.82],
    [1.97, 1.93, 1.88, 1.83, 1.78, 1.73, 1.69, 1.66, 1.64, 1.63, 1.63, 1.63, 1.64, 1.66, 1.69, 1.73, 1.78, 1.83, 1.88, 1.93, 1.97],
];
const bandsDotD = [
    [0.03, 0.03, 0.03, 0.03, 0.03, 0.03, 0.03, 0.03, 0.03, 0.03, 0.03, 0.03, 0.03, 0.03, 0.03, 0.03, 0.03, 0.03, 0.03, 0.03, 0.03],
    [-0.03, -0.03, -0.03, -0.03, -0.03, -0.03, -0.03, -0.03, -0.03, -0.03, -0.03, -0.03, -0.03, -0.03, -0.03, -0.03, -0.03, -0.03, -0.03, -0.03, -0.03],
    [0.16, 0.15, 0.17, 0.15, 0.16, 0.15, 0.16, 0.15, 0.16, 0.16, 0.16, 0.16, 0.16, 0.15, 0.16, 0.15, 0.16, 0.15, 0.17, 0.15, 0.16],
    [-0.16, -0.15, -0.17, -0.15, -0.16, -0.15, -0.16, -0.15, -0.16, -0.16, -0.16, -0.16, -0.16, -0.15, -0.16, -0.15, -0.16, -0.15, -0.17, -0.15, -0.16],
    [1.3, 1.16, 1.0, 0.9, 0.86, 0.86, 0.88, 0.9, 0.88, 0.86, 0.87, 0.86, 0.88, 0.9, 0.88, 0.86, 0.86, 0.9, 1.0, 1.16, 1.3],
    [1.2, 1.22, 1.19, 1.2, 1.23, 1.21, 1.2, 1.22, 1.2, 1.19, 1.2, 1.19, 1.2, 1.22, 1.2, 1.21, 1.23, 1.2, 1.19, 1.22, 1.2],
    [1.39, 1.37, 1.4, 1.41, 1.38, 1.37, 1.39, 1.41, 1.39, 1.38, 1.39, 1.38, 1.39, 1.41, 1.39, 1.37, 1.38, 1.41, 1.4, 1.37, 1.39],
    [1.9, 1.87, 1.82, 1.77, 1.72, 1.68, 1.64, 1.61, 1.6, 1.59, 1.59, 1.59, 1.6, 1.61, 1.64, 1.68, 1.72, 1.77, 1.82, 1.87, 1.9],
];
const branchesD = [
    [[-0.5, 1.95], [-0.45, 1.58], [-0.4, 1.22], [-0.35, 0.9], [-0.3, 0.65], [-0.25, 0.44], [-0.2, 0.27], [-0.17, 0.21], [-0.12, 0.19]],
    [[0.12, 0.19], [0.17, 0.21], [0.2, 0.27], [0.25, 0.44], [0.3, 0.65], [0.35, 0.9], [0.4, 1.22], [0.45, 1.58], [0.5, 1.95]],
    [[-0.5, -0.21], [-0.46, -0.33], [-0.41, -0.5], [-0.39, -0.58]],
    [[-0.27, -0.6], [-0.24, -0.5], [-0.2, -0.34], [-0.16, -0.21]],
    [[0.16, -0.21], [0.2, -0.34], [0.24, -0.5], [0.27, -0.6]],
    [[0.39, -0.58], [0.41, -0.5], [0.46, -0.33], [0.5, -0.21]],
    [[-0.5, 2.4], [-0.4, 2.62], [-0.3, 2.82], [-0.2, 2.95], [-0.13, 3.0], [-0.05, 2.96], [0, 2.88], [0.1, 2.68], [0.2, 2.5], [0.3, 2.35], [0.4, 2.25], [0.5, 2.2]],
    [[-0.5, 2.2], [-0.4, 2.25], [-0.3, 2.35], [-0.2, 2.5], [-0.1, 2.68], [0, 2.88], [0.05, 2.96], [0.13, 3.0], [0.2, 2.95], [0.3, 2.82], [0.4, 2.62], [0.5, 2.4]],
    [[-0.5, 2.75], [0.5, 2.75]],
];
const meshD = [
    [[-0.3, 1.42], [-0.229, 1.0]], [[-0.3, 1.82], [-0.161, 1.0]], [[-0.3, 2.22], [-0.093, 1.0]],
    [[-0.3, 2.62], [-0.025, 1.0]], [[-0.297, 3.0], [0.042, 1.0]], [[-0.229, 3.0], [0.11, 1.0]],
    [[-0.161, 3.0], [0.178, 1.0]], [[-0.093, 3.0], [0.246, 1.0]], [[-0.025, 3.0], [0.3, 1.08]],
    [[0.042, 3.0], [0.3, 1.48]], [[0.11, 3.0], [0.3, 1.88]], [[0.178, 3.0], [0.3, 2.28]], [[0.246, 3.0], [0.3, 2.68]],
    [[0.229, 1.0], [0.3, 1.42]], [[0.161, 1.0], [0.3, 1.82]], [[0.093, 1.0], [0.3, 2.22]],
    [[0.025, 1.0], [0.3, 2.62]], [[-0.042, 1.0], [0.297, 3.0]], [[-0.11, 1.0], [0.229, 3.0]],
    [[-0.178, 1.0], [0.161, 3.0]], [[-0.246, 1.0], [0.093, 3.0]], [[-0.3, 1.08], [0.025, 3.0]],
    [[-0.3, 1.48], [-0.042, 3.0]], [[-0.3, 1.88], [-0.11, 3.0]], [[-0.3, 2.28], [-0.178, 3.0]], [[-0.3, 2.68], [-0.246, 3.0]],
];

// ---- styles ----
const ink = '#262626';
const plotBg = '#e9e9e6';
const tickFont = { family: "'Liberation Sans', Arial, sans-serif", size: 11 };
const titleFont = { family: "'Liberation Sans', Arial, sans-serif", size: 15 };

const solid = { borderColor: ink, borderWidth: 1.3, pointRadius: 0, fill: false, cubicInterpolationMode: 'monotone' };
const dotted = { borderColor: '#2e2e2e', borderWidth: 1.15, borderDash: [1.4, 1.8], pointRadius: 0, fill: false, cubicInterpolationMode: 'monotone' };
const straightSolid = { ...solid, cubicInterpolationMode: 'default', tension: 0 };
const straightDotted = { ...dotted, cubicInterpolationMode: 'default', tension: 0 };

function onGrid(xs, ys, style) {
    return { ...style, data: xs.map((x, i) => ({ x, y: ys[i] })) };
}

function fromPairs(points, style) {
    return { ...style, data: points.map(p => ({ x: p[0], y: p[1] })) };
}

const reversed = row => row.slice().reverse();

const frame = {
    id: 'frame',
    beforeDatasetsDraw(chart) {
        const { ctx, chartArea: a } = chart;
        ctx.save();
        ctx.fillStyle = plotBg;
        ctx.fillRect(a.left, a.top, a.right - a.left, a.bottom - a.top);
        ctx.restore();
    },
    afterDatasetsDraw(chart) {
        const { ctx, chartArea: a, scales: { x, y } } = chart;
        ctx.save();
        ctx.strokeStyle = ink;
        ctx.lineWidth = 1.4;
        ctx.strokeRect(a.left, a.top, a.right - a.left, a.bottom - a.top);
        ctx.lineWidth = 1;
        ctx.beginPath();
        xMarks.forEach(v => {
            const px = x.getPixelForValue(v);
            ctx.moveTo(px, a.bottom); ctx.lineTo(px, a.bottom - 4);
            ctx.moveTo(px, a.top); ctx.lineTo(px, a.top + 4);
        });
        yMarks.forEach(v => {
            const py = y.getPixelForValue(v);
            ctx.moveTo(a.left, py); ctx.lineTo(a.left + 6, py);
            ctx.moveTo(a.right, py); ctx.lineTo(a.right - 6, py);
        });
        ctx.stroke();
        ctx.restore();
    },
};

function drawPanel(id, datasets, layout) {
    new Chart(document.getElementById(id), {
        type: 'line',
        data: { datasets },
        options: {
            responsive: false,
            animation: false,
            events: [],
            layout: { padding: { top: layout.top, right: layout.right, left: 0, bottom: 0 } },
            plugins: { legend: { display: false }, tooltip: { enabled: false } },
            scales: {
                x: {
                    type: 'linear', min: -0.5, max: 0.5,
                    grid: { display: false, drawTicks: false },
                    border: { display: false },
                    ticks: {
                        display: layout.showX, stepSize: 0.5, padding: 7, maxRotation: 0, autoSkip: false,
                        color: '#404040', font: tickFont, callback: v => v.toFixed(1),
                    },
                    title: {
                        display: layout.showX, text: 'Wave Vector (units of 2π/a)',
                        color: '#474747', font: titleFont, padding: { top: 0, bottom: 0 },
                    },
                    afterFit: scale => { scale.height = layout.xHeight; },
                },
                y: {
                    type: 'linear', min: -0.5, max: 3.0,
                    grid: { display: false, drawTicks: false },
                    border: { display: false },
                    ticks: {
                        stepSize: 0.5, padding: 4, autoSkip: false,
                        color: '#404040', font: tickFont,
                        callback: v => (v % 1 === 0 ? v.toFixed(1) : ''),
                    },
                    title: {
                        display: true, text: 'Energy (units of γ₀)',
                        color: '#474747', font: titleFont, padding: { top: layout.titleGap, bottom: 0 },
                    },
                    afterFit: scale => { scale.width = layout.yWidth; },
                },
            },
        },
        plugins: [frame],
    });
}

// ---- assemble panels ----
const setsA = [
    ...tbA.map(row => onGrid(waveA, row, solid)),
    ...diracA.map(pts => fromPairs(pts, solid)),
    ...kpZeroA.map(pts => fromPairs(pts, straightDotted)),
    ...kpA.map(row => onGrid(kpGridA, row, dotted)),
    ...kpA.map(row => onGrid(kpGridAR, reversed(row), dotted)),
    ...zoneA.map(row => onGrid(zoneGridA, row, dotted)),
    ...zoneA.map(row => onGrid(zoneGridAR, reversed(row), dotted)),
];

const setsB = [
    ...tbB.map(row => onGrid(waveB, row, solid)),
    ...kpB.map(row => onGrid(kpGridB, row, dotted)),
    ...kpB.map(row => onGrid(kpGridBR, reversed(row), dotted)),
    ...zoneB.map(row => onGrid(zoneGridB, row, dotted)),
    ...zoneB.map(row => onGrid(zoneGridBR, reversed(row), dotted)),
];

const setsC = [
    ...arcsC.map(row => onGrid(waveC, row, solid)),
    ...arcsDotC.map(row => onGrid(waveC, row, dotted)),
    ...humpsC.map(row => onGrid(waveC, row, solid)),
    ...humpsDotC.map(row => onGrid(waveC, row, dotted)),
    ...fociDotC.map(pts => fromPairs(pts, straightDotted)),
    ...wavesC.map(row => onGrid(waveC, row, solid)),
    ...wavesDotC.map(row => onGrid(waveC, row, dotted)),
    ...lowC.map(pts => fromPairs(pts, solid)),
];

const setsD = [
    ...bandsD.map(row => onGrid(waveD, row, solid)),
    ...bandsDotD.map(row => onGrid(waveD, row, dotted)),
    ...branchesD.map(pts => fromPairs(pts, solid)),
    ...meshD.map(pts => fromPairs(pts, straightSolid)),
];

drawPanel('panelA', setsA, { top: 10, right: 10, xHeight: 35, yWidth: 57, titleGap: 10, showX: false });
drawPanel('panelC', setsC, { top: 10, right: 9, xHeight: 35, yWidth: 65, titleGap: 29, showX: false });
drawPanel('panelB', setsB, { top: 15, right: 8, xHeight: 40, yWidth: 57, titleGap: 18, showX: true });
drawPanel('panelD', setsD, { top: 15, right: 9, xHeight: 38, yWidth: 63, titleGap: 28, showX: true });
</script>
</body>
</html>
